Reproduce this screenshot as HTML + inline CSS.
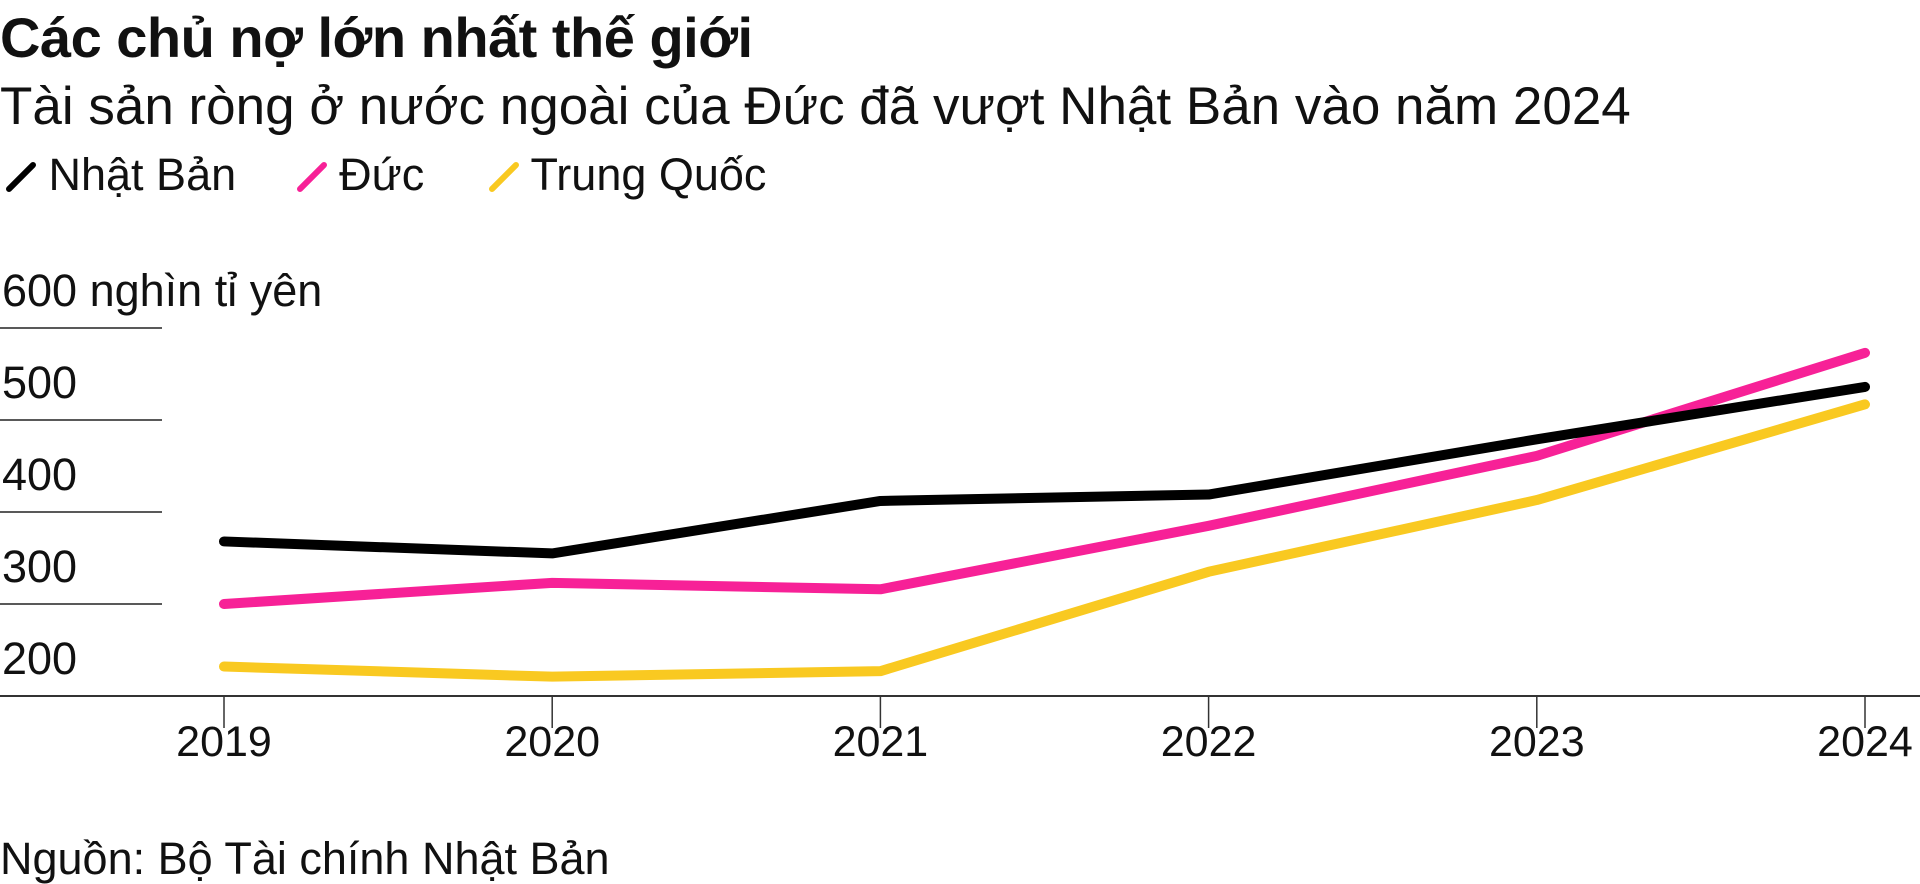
<!DOCTYPE html>
<html><head><meta charset="utf-8"><style>
body{margin:0;width:1920px;height:884px;background:#fff;overflow:hidden;font-family:"Liberation Sans","DejaVu Sans",sans-serif;color:#111}
.t{position:absolute;left:0;white-space:nowrap;line-height:1}
</style></head><body>
<div class="t" style="top:10px;font-size:56px;font-weight:bold;letter-spacing:-0.5px">Các chủ nợ lớn nhất thế giới</div>
<div class="t" style="top:80px;font-size:53px">Tài sản ròng ở nước ngoài của Đức đã vượt Nhật Bản vào năm 2024</div>
<div class="t" style="top:152px;font-size:45px;left:6px">
<span><svg width="30" height="30" style="vertical-align:-2px"><line x1="3" y1="27" x2="27" y2="3" stroke="#000" stroke-width="6" stroke-linecap="round"/></svg> Nhật Bản</span>
<span style="margin-left:48px"><svg width="30" height="30" style="vertical-align:-2px"><line x1="3" y1="27" x2="27" y2="3" stroke="#f72197" stroke-width="6" stroke-linecap="round"/></svg> Đức</span>
<span style="margin-left:52px"><svg width="30" height="30" style="vertical-align:-2px"><line x1="3" y1="27" x2="27" y2="3" stroke="#f9c921" stroke-width="6" stroke-linecap="round"/></svg> Trung Quốc</span>
</div>
<svg id="chart" width="1920" height="884" style="position:absolute;left:0;top:0"></svg>
<div class="t" style="top:836px;font-size:45px">Nguồn: Bộ Tài chính Nhật Bản</div>
<script>
const years=["2019","2020","2021","2022","2023","2024"];
const japan=[368,355,412,419,479,536];
const germany=[300,323,316,385,461,573];
const china=[232,221,227,335,413,517];
const yTicks=[200,300,400,500,600];
const NS="http://www.w3.org/2000/svg";
const svg=document.getElementById('chart');
const x=i=>224+i*(1865-224)/(years.length-1);
const y=v=>696-(v-200)*(696-328)/400;
function mk(t,a){const e=document.createElementNS(NS,t);for(const k in a)e.setAttribute(k,a[k]);svg.appendChild(e);return e;}
yTicks.forEach(v=>{
  if(v>200){const g=mk('line',{x1:0,x2:162,y1:y(v),y2:y(v),stroke:'#222','stroke-width':1.5});
  
  }
  const t=mk('text',{x:2,y:y(v)-22,'font-size':45,fill:'#111'});
  t.textContent=v===600?'600 nghìn tỉ yên':String(v);
  
  
});
const ax=mk('line',{x1:0,x2:1920,y1:y(200),y2:y(200),stroke:'#333','stroke-width':2});


years.forEach((yr,i)=>{
  const tk=mk('line',{x1:x(i),x2:x(i),y1:y(200),y2:y(200)+32,stroke:'#333','stroke-width':1.5});
  
  
  const t=mk('text',{x:x(i),y:756,'font-size':43,fill:'#111','text-anchor':'middle'});
  t.textContent=yr;
  
  
});
function series(vals,color,name){
  const p=mk('polyline',{points:vals.map((v,i)=>x(i)+','+y(v)).join(' '),fill:'none',stroke:color,'stroke-width':10,'stroke-linecap':'round','stroke-linejoin':'round'});
  
  
}
series(china,'#f9c921','line-china');
series(germany,'#f72197','line-germany');
series(japan,'#000','line-japan');
</script>
</body></html>
